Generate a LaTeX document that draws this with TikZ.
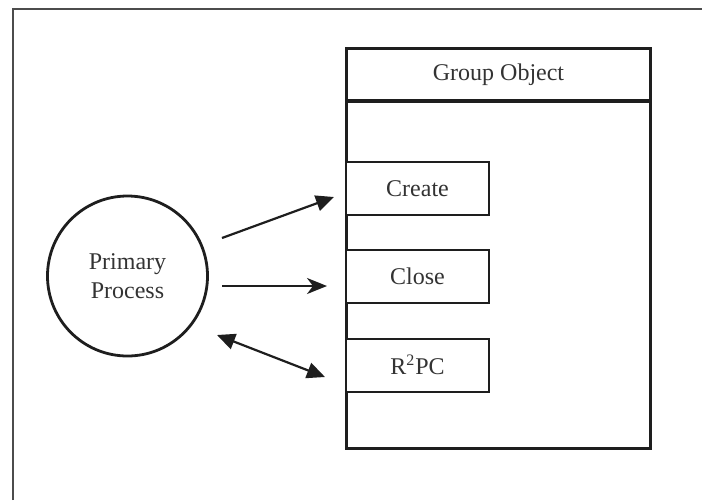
\documentclass[tikz,border=0pt]{standalone}
\usepackage{fontspec}
\setmainfont{Liberation Serif}
\usetikzlibrary{arrows.meta}
\definecolor{ink}{HTML}{1E1E1E}
\definecolor{txt}{HTML}{333333}
\tikzset{
    box/.style={draw=ink, text=txt, line width=1.5pt},
    method/.style={draw=ink, text=txt, line width=1pt, fill=white, minimum width=71.5pt, minimum height=26.5pt, anchor=west},
    tip/.style={-{Triangle[length=9pt, width=8pt]}},
    arr/.style={draw=ink, line width=1.1pt, tip},
}
\begin{document}
\begin{tikzpicture}[x=0.5pt, y=-0.5pt, font=\fontsize{12}{14.5}\selectfont]
    \useasboundingbox (0,0) rectangle (702,500);
    % page frame
    \draw[line width=1.2pt, black!70] (13,500) -- (13,9) -- (702,9);

    % Primary process
    \node[box, circle, line width=1.4pt, minimum size=80pt, align=center] (proc) at (127.5,276) {Primary\\Process};

    % Group object
    \node[box, minimum width=152pt, minimum height=26.5pt, anchor=north west] (title) at (345,47) {Group Object};
    \node[box, minimum width=152pt, minimum height=174pt, anchor=north west] (group) at (345,99) {};
    \foreach \n/\t/\y in {create/Create/188.5, close/Close/276.5, rpc/R\textsuperscript{2}PC/365}
        \node[method] (\n) at (345,\y) {\t};

    % calls
    \coordinate (a1) at (222,238); \coordinate (b1) at (334,197);
    \coordinate (a2) at (222,286); \coordinate (b2) at (327,286);
    \coordinate (a3) at (217,335); \coordinate (b3) at (325,377);
    \draw[arr] (a1) -- (b1);
    \draw[arr, -{Stealth[length=10pt, width=8pt, inset=3pt]}] (a2) -- (b2);
    \draw[arr, {Triangle[length=9pt, width=8pt]}-{Triangle[length=9pt, width=8pt]}] (a3) -- (b3);
\end{tikzpicture}
\end{document}
